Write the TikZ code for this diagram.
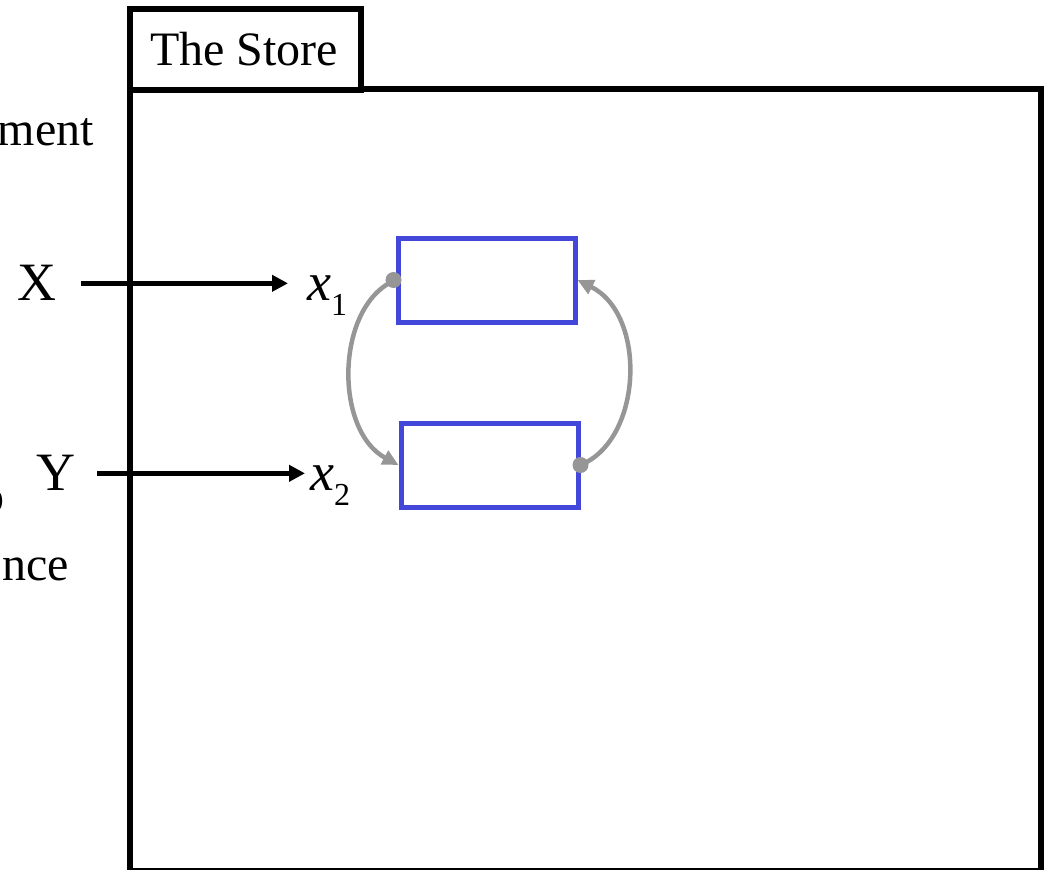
\documentclass[tikz,border=0pt]{standalone}
\usepackage{fontspec}
\setmainfont{Liberation Serif}
\usetikzlibrary{arrows.meta}
\definecolor{boxblue}{RGB}{68,72,218}
\definecolor{arcgray}{RGB}{150,150,150}
\tikzset{
  big/.style={font=\fontsize{54}{60}\selectfont, inner sep=0pt},
  side/.style={font=\fontsize{48}{54}\selectfont, inner sep=0pt},
  varlbl/.style={inner sep=0pt, font=\fontsize{54}{60}\selectfont},
  inarrow/.style={line width=5.5pt, -{Triangle[length=16pt,width=16pt]}},
  regbox/.style={draw=boxblue, line width=5pt, minimum width=177pt, minimum height=84pt, inner sep=0pt},
  arc/.style={draw=arcgray, line width=4.5pt, -{Triangle[length=16pt,width=15pt]}},
  dot/.style={circle, fill=arcgray, inner sep=0pt, minimum size=16pt},
}
\newcommand{\sub}[1]{\raisebox{-15pt}{\upshape\fontsize{32}{34}\selectfont #1}}
\begin{document}
\begin{tikzpicture}[x=1pt,y=-1pt]
\useasboundingbox (0,0) rectangle (1045,870);
\clip (0,0) rectangle (1045,870);
% store frame
\draw[line width=5.5pt] (130,89) coordinate (sa) -- (130,871) -- (1041,871) -- (1041,89) -- (362,89);
\node[draw, line width=6pt, minimum width=231pt, minimum height=81pt, inner sep=0pt] (tab) at (245.5,49) {};
\node[side, anchor=base] (store) at (244,65) {The Store};
% side text
\node[side, anchor=base east] (ment) at (94,145) {ment};
\node[side, anchor=base east] (frag) at (5,512) {o};
\node[side, anchor=base east] (nce) at (69,580) {nce};
% inputs
\node[big, anchor=base west] (X) at (17,300) {X};
\node[big, anchor=base west] (Y) at (36,490) {Y};
\node[varlbl, anchor=base west] (x1) at (307,300) {\itshape x\sub{1}};
\node[varlbl, anchor=base west] (x2) at (310,490) {\itshape x\sub{2}};
\draw[inarrow] ([xshift=25pt,yshift=-1pt]X.east) -- ([xshift=-19pt,yshift=-1pt]x1.west |- X.east);
\draw[inarrow] ([xshift=22pt,yshift=-1pt]Y.east) -- ([xshift=-5pt,yshift=-1pt]x2.west |- Y.east);
% boxes
\node[regbox] (b1) at (486.5,280) {};
\node[regbox] (b2) at (489.5,465) {};
% arcs
\draw[arc] (b1.west) .. controls +(-60,25) and +(-65,-35) .. (b2.west);
\draw[arc] (b2.east) .. controls +(62,-25) and +(70,35) .. (b1.east);
\node[dot] (d1) at ([xshift=-2pt]b1.west) {};
\node[dot] (d2) at (b2.east) {};
\end{tikzpicture}
\end{document}
